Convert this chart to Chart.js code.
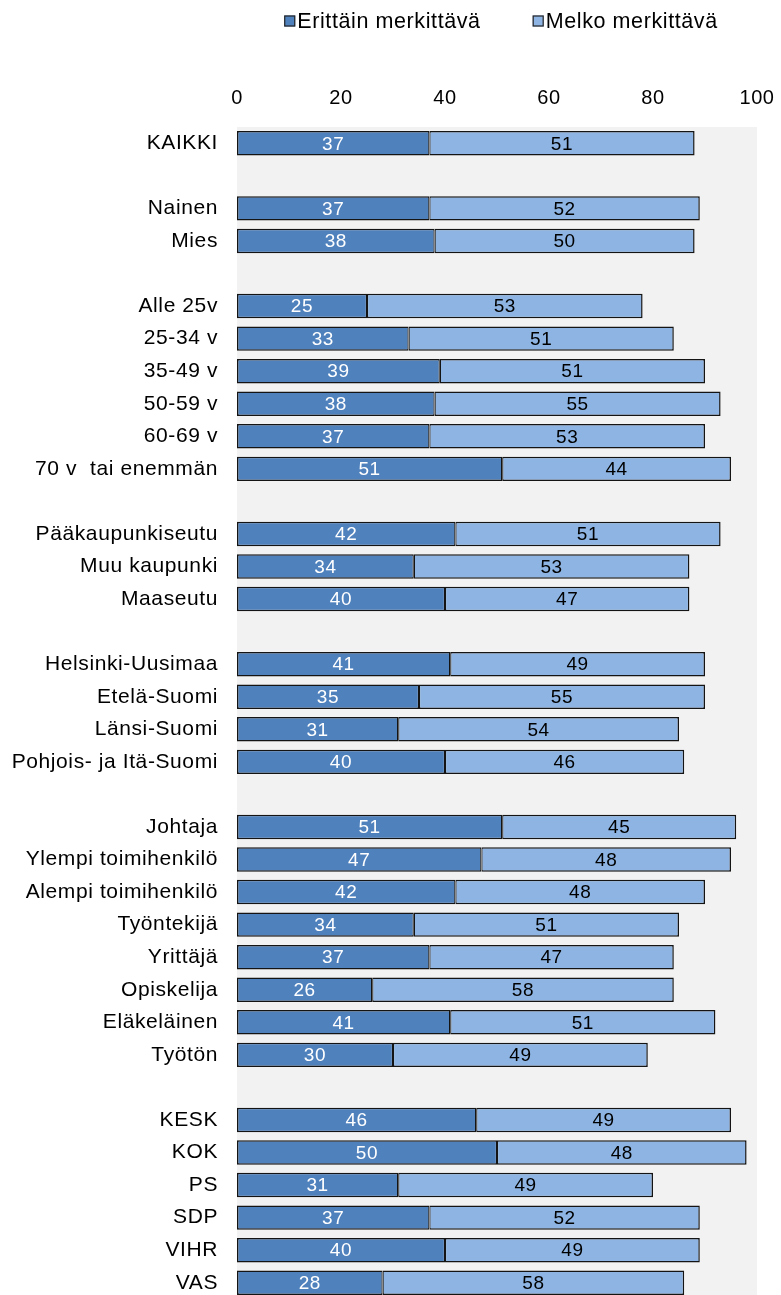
<!DOCTYPE html>
<html>
<head>
<meta charset="utf-8">
<script src="https://cdn.jsdelivr.net/npm/chart.js@4/dist/chart.umd.min.js"></script>
<style>
  html, body { margin: 0; padding: 0; background: #ffffff; overflow: hidden; }
  #wrap { width: 781px; height: 1299px; }
</style>
</head>
<body>
<div id="wrap"><canvas id="c" width="781" height="1299"></canvas></div>
<script>
// Group rows; empty strings are spacer rows between groups
const categories = [
  'KAIKKI', '',
  'Nainen', 'Mies', '',
  'Alle 25v', '25-34 v', '35-49 v', '50-59 v', '60-69 v', '70 v  tai enemmän', '',
  'Pääkaupunkiseutu', 'Muu kaupunki', 'Maaseutu', '',
  'Helsinki-Uusimaa', 'Etelä-Suomi', 'Länsi-Suomi', 'Pohjois- ja Itä-Suomi', '',
  'Johtaja', 'Ylempi toimihenkilö', 'Alempi toimihenkilö', 'Työntekijä', 'Yrittäjä', 'Opiskelija', 'Eläkeläinen', 'Työtön', '',
  'KESK', 'KOK', 'PS', 'SDP', 'VIHR', 'VAS'
];

const erittainMerkittava = [
  37, null,
  37, 38, null,
  25, 33, 39, 38, 37, 51, null,
  42, 34, 40, null,
  41, 35, 31, 40, null,
  51, 47, 42, 34, 37, 26, 41, 30, null,
  46, 50, 31, 37, 40, 28
];

const melkoMerkittava = [
  51, null,
  52, 50, null,
  53, 51, 51, 55, 53, 44, null,
  51, 53, 47, null,
  49, 55, 54, 46, null,
  45, 48, 48, 51, 47, 58, 51, 49, null,
  49, 48, 49, 52, 49, 58
];

const seriesNames = ['Erittäin merkittävä', 'Melko merkittävä'];
const xTicks = [0, 20, 40, 60, 80, 100];

const FONT = '"Liberation Sans", Arial, sans-serif';
const DARK = '#4f81bd';
const LIGHT = '#8db4e2';
const EDGE = '#141414';

// Keep the plot area exactly where the layout puts it (no label overhang padding)
function noOverhang(scale) {
  scale.paddingLeft = 0;
  scale.paddingRight = 0;
  scale.paddingTop = 0;
  scale.paddingBottom = 0;
}

// Grey plot background + slight letter spacing for all text
const plotBackground = {
  id: 'plotBackground',
  beforeDraw(chart) {
    const { ctx, chartArea: a } = chart;
    ctx.letterSpacing = '0.6px';
    ctx.save();
    ctx.fillStyle = '#f2f2f2';
    ctx.fillRect(a.left, a.top, a.right - a.left, a.bottom - a.top);
    ctx.restore();
  }
};

// Value labels centred inside each segment
const segmentLabels = {
  id: 'segmentLabels',
  afterDatasetsDraw(chart) {
    const { ctx } = chart;
    ctx.save();
    ctx.font = '19px ' + FONT;
    ctx.textAlign = 'center';
    ctx.textBaseline = 'middle';
    chart.data.datasets.forEach((ds, i) => {
      const meta = chart.getDatasetMeta(i);
      ctx.fillStyle = i === 0 ? '#ffffff' : '#000000';
      meta.data.forEach((bar, j) => {
        const v = ds.data[j];
        if (v == null) return;
        const p = bar.getProps(['x', 'base', 'y'], true);
        ctx.fillText(String(v), (p.x + p.base) / 2, p.y + 1);
      });
    });
    ctx.restore();
  }
};

// Legend row above the axis, centred over the plot area
const topLegend = {
  id: 'topLegend',
  afterDraw(chart) {
    const { ctx, chartArea: a } = chart;
    ctx.save();
    ctx.font = '21.5px ' + FONT;
    ctx.textBaseline = 'middle';
    ctx.textAlign = 'left';
    const box = 11, gapText = 2, gapItem = 52, cy = 21;
    const widths = chart.data.datasets.map(ds => ctx.measureText(ds.label).width);
    let total = 0;
    widths.forEach((w, i) => { total += box + gapText + w + (i ? gapItem : 0); });
    let x = (a.left + a.right) / 2 + 4 - total / 2;
    chart.data.datasets.forEach((ds, i) => {
      ctx.fillStyle = ds.backgroundColor;
      ctx.fillRect(x, cy - box / 2, box, box);
      ctx.strokeStyle = '#262626';
      ctx.lineWidth = 1.2;
      ctx.strokeRect(x + 0.5, cy - box / 2 + 0.5, box - 1, box - 1);
      ctx.fillStyle = '#000000';
      ctx.fillText(ds.label, x + box + gapText, cy + 1);
      x += box + gapText + widths[i] + gapItem;
    });
    ctx.restore();
  }
};

new Chart(document.getElementById('c'), {
  type: 'bar',
  data: {
    labels: categories,
    datasets: [
      {
        label: seriesNames[0],
        data: erittainMerkittava,
        backgroundColor: DARK,
        borderColor: EDGE,
        borderWidth: { top: 1.5, bottom: 1.5, left: 1.5, right: 1.2 },
        borderSkipped: false
      },
      {
        label: seriesNames[1],
        data: melkoMerkittava,
        backgroundColor: LIGHT,
        borderColor: EDGE,
        borderWidth: { top: 1.5, bottom: 1.5, left: 1.2, right: 1.5 },
        borderSkipped: false
      }
    ]
  },
  options: {
    indexAxis: 'y',
    responsive: false,
    animation: false,
    devicePixelRatio: 1,
    layout: { padding: { left: 0, right: 24, top: 0, bottom: 0 } },
    categoryPercentage: 1,
    barPercentage: 0.75,
    plugins: {
      legend: { display: false },
      tooltip: { enabled: false }
    },
    scales: {
      x: {
        position: 'top',
        stacked: true,
        min: 0,
        max: 100,
        border: { display: false },
        grid: { display: false, drawTicks: false },
        afterBuildTicks(scale) { scale.ticks = xTicks.map(v => ({ value: v })); },
        afterFit(scale) { scale.height = 127; noOverhang(scale); },
        ticks: {
          padding: 17,
          color: '#000000',
          font: { family: FONT, size: 20 }
        }
      },
      y: {
        stacked: true,
        border: { display: false },
        grid: { display: false, drawTicks: false },
        afterFit(scale) { scale.width = 237; noOverhang(scale); },
        ticks: {
          autoSkip: false,
          padding: 19,
          color: '#000000',
          font: { family: FONT, size: 21 }
        }
      }
    }
  },
  plugins: [plotBackground, segmentLabels, topLegend]
});
</script>
</body>
</html>
